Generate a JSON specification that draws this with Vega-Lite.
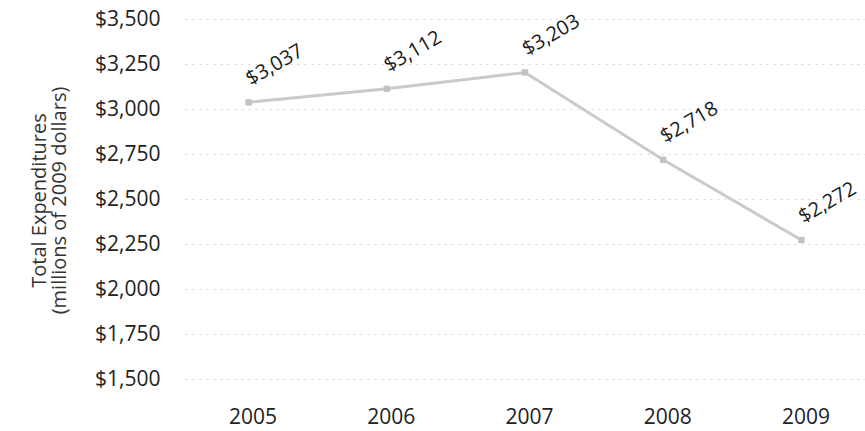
{
  "$schema": "https://vega.github.io/schema/vega-lite/v6.json",
  "width": 680,
  "height": 360,
  "autosize": {"type": "none"},
  "padding": {"left": 185, "top": 19, "right": 0, "bottom": 52},
  "background": "white",
  "config": {
    "view": {"stroke": null},
    "font": "Open Sans"
  },
  "data": {
    "values": [
      {"year": "2005", "spend": 3037},
      {"year": "2006", "spend": 3112},
      {"year": "2007", "spend": 3203},
      {"year": "2008", "spend": 2718},
      {"year": "2009", "spend": 2272}
    ]
  },
  "encoding": {
    "x": {
      "field": "year",
      "type": "ordinal",
      "title": null,
      "scale": {"type": "point", "padding": 0.46},
      "axis": {
        "labelAngle": 0,
        "labelFontSize": 21,
        "labelColor": "#222",
        "labelPadding": 27,
        "labelOffset": 4,
        "ticks": false,
        "domain": false,
        "grid": false
      }
    },
    "y": {
      "field": "spend",
      "type": "quantitative",
      "title": ["Total Expenditures", "(millions of 2009 dollars)"],
      "scale": {"domain": [1500, 3500], "nice": false, "zero": false},
      "axis": {
        "values": [1500, 1750, 2000, 2250, 2500, 2750, 3000, 3250, 3500],
        "format": "$,.0f",
        "labelFontSize": 21,
        "labelColor": "#222",
        "labelPadding": 25,
        "ticks": false,
        "domain": false,
        "gridColor": "#d4d4d4",
        "gridDash": [2, 5],
        "gridWidth": 1,
        "titleFontSize": 20,
        "titleFontWeight": "normal",
        "titleColor": "#333",
        "titleX": -146,
        "titleY": 181,
        "titleAlign": "center",
        "titleBaseline": "middle",
        "titleLineHeight": 20
      }
    }
  },
  "layer": [
    {
      "mark": {"type": "line", "color": "#cacaca", "strokeWidth": 3}
    },
    {
      "mark": {"type": "square", "color": "#c2c2c2", "size": 40, "opacity": 1}
    },
    {
      "mark": {
        "type": "text",
        "angle": -30,
        "align": "left",
        "baseline": "bottom",
        "dx": 10,
        "dy": -9,
        "fontSize": 20,
        "color": "#1a1a1a"
      },
      "encoding": {
        "text": {"field": "spend", "type": "quantitative", "format": "$,.0f"}
      }
    }
  ]
}
